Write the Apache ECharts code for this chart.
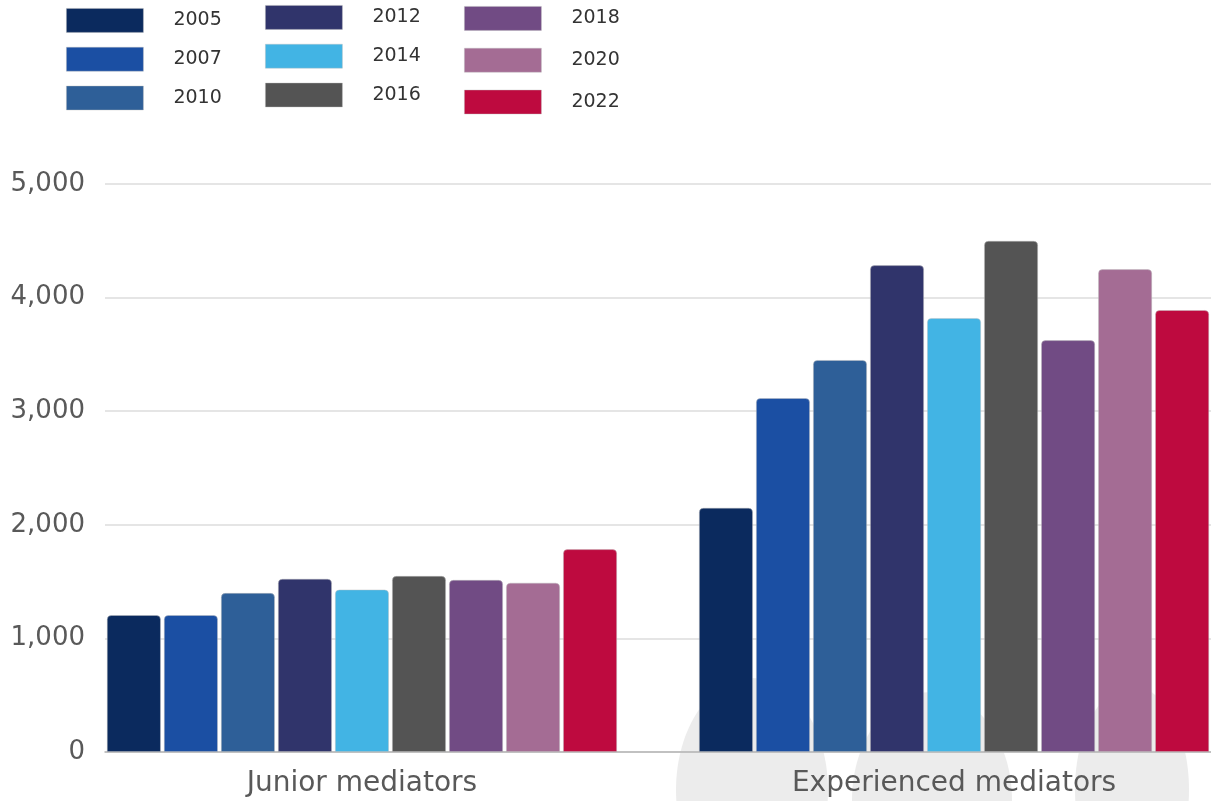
<!DOCTYPE html>
<html>
<head>
<meta charset="utf-8">
<script src="https://cdn.jsdelivr.net/npm/echarts@6/dist/echarts.min.js"></script>
<style>
  html, body { margin: 0; padding: 0; background: #ffffff; }
  #chart { width: 1211px; height: 801px; }
</style>
</head>
<body>
<div id="chart"></div>
<script>
// ---- data ----
const categories = ['Junior mediators', 'Experienced mediators'];
const years = ['2005', '2007', '2010', '2012', '2014', '2016', '2018', '2020', '2022'];
const junior =      [1205, 1205, 1400, 1525, 1430, 1550, 1515, 1490, 1785];
const experienced = [2150, 3115, 3450, 4285, 3820, 4500, 3625, 4250, 3890];
const yMin = 0, yMax = 5000, yStep = 1000;
// category positions on the horizontal axis (0 = first group, 1 = second group)
const catPos = [0, 1];
const xMin = -0.434, xMax = 1.434;

// ---- styles ----
const colors = ['#0b2a5e', '#1b4fa3', '#2e5f98', '#30346b', '#42b4e4', '#545454', '#714b84', '#a46c94', '#be0a3f'];
const FONT = 'DejaVu Sans';

const chart = echarts.init(document.getElementById('chart'), null, { renderer: 'canvas' });

const series = years.map((y, i) => ({
  name: y,
  type: 'bar',
  data: [[catPos[0], junior[i]], [catPos[1], experienced[i]]],
  barWidth: 54,
  barGap: '5.6%',
  itemStyle: {
    color: colors[i],
    borderRadius: [4, 4, 0, 0],
    borderColor: 'rgba(190,190,190,0.55)',
    borderWidth: 0.8
  },
  emphasis: { disabled: true }
}));

function legendCfg(names, left, top, gap) {
  return {
    data: names,
    left: left,
    top: top,
    orient: 'vertical',
    itemWidth: 77,
    itemHeight: 24,
    itemGap: gap,
    icon: 'rect',
    selectedMode: false,
    padding: 0,
    itemStyle: { borderColor: 'rgba(190,190,190,0.5)', borderWidth: 0.8 },
    textStyle: { fontFamily: FONT, fontSize: 19, color: '#333333', padding: [0, 0, 0, 25] }
  };
}

chart.setOption({
  backgroundColor: '#ffffff',
  animation: false,
  color: colors,
  legend: [
    legendCfg(years.slice(0, 3), 66, 8, 14),
    legendCfg(years.slice(3, 6), 265, 5, 14),
    legendCfg(years.slice(6, 9), 464, 6, 17)
  ],
  graphic: [
    { type: 'ellipse', z: -100, silent: true, shape: { cx: 752, cy: 790, rx: 76, ry: 112 }, style: { fill: '#ececec' } },
    { type: 'ellipse', z: -100, silent: true, shape: { cx: 932, cy: 800, rx: 80, ry: 108 }, style: { fill: '#ececec' } },
    { type: 'ellipse', z: -100, silent: true, shape: { cx: 1132, cy: 790, rx: 57, ry: 104 }, style: { fill: '#ececec' } }
  ],
  grid: { left: 105, right: 0, top: 184, bottom: 49, containLabel: false },
  xAxis: {
    type: 'value',
    min: xMin,
    max: xMax,
    axisLine: { show: true, onZero: false, lineStyle: { color: '#b5b5b5', width: 1.5 } },
    axisTick: { show: false },
    splitLine: { show: false },
    axisLabel: {
      show: true,
      customValues: catPos,
      fontFamily: FONT, fontSize: 28, color: '#595959', margin: 18,
      formatter: v => categories[Math.round(v)]
    }
  },
  yAxis: {
    type: 'value',
    min: yMin,
    max: yMax,
    interval: yStep,
    axisLine: { show: false },
    axisTick: { show: false },
    axisLabel: {
      fontFamily: FONT, fontSize: 26, color: '#595959', margin: 20,
      formatter: v => v.toLocaleString('en-US')
    },
    splitLine: { show: true, lineStyle: { color: '#dcdcdc', width: 1.5 } }
  },
  series: series
});
</script>
</body>
</html>
